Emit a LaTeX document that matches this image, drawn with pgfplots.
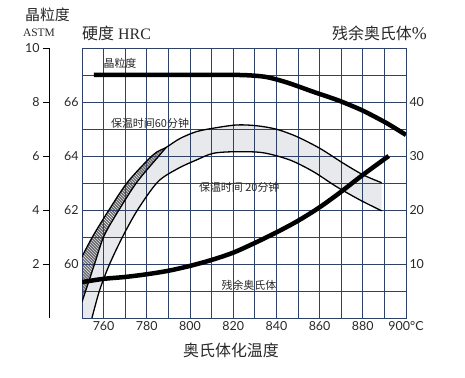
\documentclass[border=0pt]{standalone}
\usepackage{pgfplots}
\pgfplotsset{compat=1.18}
\usetikzlibrary{patterns}
\usepackage{fontspec}
\setmainfont{Lato}
\newfontfamily\cjk{Noto Sans CJK SC}
\newfontfamily\serif{Liberation Serif}
\definecolor{gridcol}{RGB}{45,65,105}
\definecolor{bandgray}{RGB}{232,233,237}
\definecolor{hatchgray}{RGB}{105,105,110}
\definecolor{txt}{RGB}{40,40,40}

\begin{document}
\begin{tikzpicture}
\path[use as bounding box] (-82bp,-60bp) rectangle (383bp,318bp);

% background axis: shaded band and hatched area
\begin{axis}[
  scale only axis, width=324bp, height=270bp,
  xmin=750, xmax=900, ymin=0, ymax=10,
  hide axis,
]
% band between 60 min (with left branch B) and 20 min curves
\addplot[fill=bandgray, draw=none] coordinates {
 (750,0) (750,0.6) (752.5,1.3) (755.9,2.02) (760.2,3.04) (763.7,3.55) (767.4,4.04) (771.3,4.56) (775.6,5.05) (780.5,5.57) (786,6.04) (789,6.32)
 (795.4,6.65) (802.9,6.9) (810.8,7.03) (816,7.11) (821.6,7.15) (826,7.15) (830.9,7.12) (835.5,7.07) (840.1,6.99)
 (845,6.87) (849.4,6.72) (855,6.51) (860.2,6.28) (865.5,6.01) (871,5.73) (875.5,5.51) (880.2,5.3) (884.5,5.14) (888.7,5.01)
 (888.7,3.97) (883.5,4.17) (878.7,4.37) (873.5,4.6) (867.9,4.86) (862.5,5.15) (857.1,5.42) (851.5,5.66) (846.3,5.85)
 (840,6.02) (833.9,6.12) (827.5,6.16) (821.6,6.16) (816,6.14) (810.8,6.1) (806.5,6.0) (802.9,5.85) (798.5,5.7) (794.5,5.54)
 (789.5,5.32) (785.2,5.05) (780.5,4.57) (776,4.04) (772.3,3.55) (769,3.04) (765.7,2.5) (762.8,2.0) (760.3,1.52) (758.2,1.04) (756.3,0.5) (754.6,0)};
% hatched area between A and B
\addplot[fill=hatchgray, draw=none, postaction={pattern=north west lines, pattern color=white}] coordinates {
 (750,2.27) (752.5,2.66) (755.1,3.04) (758.9,3.55) (762.8,4.04) (767,4.56) (771.3,5.05) (776.9,5.56) (782.9,6.04) (789,6.32)
 (786,6.04) (780.5,5.57) (775.6,5.05) (771.3,4.56) (767.4,4.04) (763.7,3.55) (760.2,3.04) (757.9,2.52) (755.9,2.02) (752.5,1.3) (750,0.6)};
\end{axis}

% main axis: x = temperature, y = grid units (hardness HRC - 58)
\begin{axis}[
  scale only axis, width=324bp, height=270bp,
  xmin=750, xmax=900, ymin=0, ymax=10,
  xtick={750,760,...,900},
  xticklabels={,760,,780,,800,,820,,840,,860,,880,,900°C},
  ytick={0,1,...,10},
  yticklabels={,,60,,62,,64,,66,,},
  grid=major,
  major grid style={gridcol, line width=0.9bp},
  axis line style={gridcol, line width=0.9bp},
  major tick length=0pt,
  tick label style={font=\fontsize{12.5}{14}\selectfont, text=txt},
]
% curve A (upper edge of hatched area) + 60 min curve
\addplot[black, line width=1.3bp, smooth, tension=0.5] coordinates {
 (750,2.27) (755.1,3.04) (762.8,4.04) (771.3,5.05) (782.9,6.04) (789,6.32)
 (795.4,6.65) (802.9,6.9) (810.8,7.03) (821.6,7.15) (830.9,7.12) (840.1,6.99)
 (849.4,6.72) (860.2,6.28) (871,5.73) (880.2,5.3) (888.7,5.01)};
% curve B (lower edge of hatched area)
\addplot[black, line width=1.3bp, smooth, tension=0.5] coordinates {
 (750,0.6) (755.9,2.02) (760.2,3.04) (767.4,4.04) (775.6,5.05) (786,6.04) (789,6.32)};
% 20 min curve
\addplot[black, line width=1.3bp, smooth, tension=0.5] coordinates {
 (754.6,0) (758.2,1.04) (762.8,2.0) (769,3.04) (776,4.04) (785.2,5.05) (794.5,5.54)
 (802.9,5.85) (810.8,6.1) (821.6,6.16) (833.9,6.12) (846.3,5.85) (857.1,5.42)
 (867.9,4.86) (878.7,4.37) (888.7,3.97)};
% grain size (thick)
\addplot[black, line width=4.5bp, smooth, tension=0.4] coordinates {
 (755.5,9) (790,9) (823,9) (835,8.93) (845,8.72) (857,8.38) (869,8.05)
 (880,7.68) (891,7.22) (900,6.78)};
% retained austenite (thick)
\addplot[black, line width=4.5bp, smooth, tension=0.5] coordinates {
 (750,1.33) (760,1.45) (770,1.52) (780,1.62) (790,1.75) (800,1.93) (810,2.15)
 (820,2.42) (830,2.78) (840,3.17) (850,3.6) (860,4.1) (870,4.68) (880,5.3) (892,6.0)};
\node[font=\cjk\fontsize{11}{11}\selectfont, text=txt] at (axis cs:767.6,9.44) {晶粒度};
\node[font=\cjk\fontsize{11}{11}\selectfont, text=txt] at (axis cs:781.5,7.22) {保温时间60分钟};
\node[font=\cjk\fontsize{11}{11}\selectfont, text=txt] at (axis cs:822.8,4.84) {保温时间 20分钟};
\node[font=\cjk\fontsize{11}{11}\selectfont, text=txt] at (axis cs:827.3,1.22) {残余奥氏体};
\end{axis}

% right axis: retained austenite %
\begin{axis}[
  scale only axis, width=324bp, height=270bp,
  xmin=750, xmax=900, ymin=0, ymax=50,
  hide x axis, axis y line*=right,
  y axis line style={draw=none},
  ytick={10,20,30,40},
  major tick length=0pt,
  /pgf/number format/assume math mode=true,
  tick label style={font=\fontsize{12.5}{14}\selectfont, text=txt},
]
\addplot[draw=none] coordinates {(750,0) (900,50)};
\end{axis}

% far-left axis: grain size ASTM
\begin{axis}[
  at={(-33bp,0bp)}, anchor=south west,
  scale only axis, width=10bp, height=270bp,
  xmin=0, xmax=1, ymin=0, ymax=10,
  hide x axis, axis y line*=left,
  y axis line style={black, line width=0.8bp, -},
  ytick={2,4,6,8,10},
  tick align=outside, major tick length=6bp,
  major tick style={black, line width=0.8bp},
  /pgf/number format/assume math mode=true,
  tick label style={font=\fontsize{12.5}{14}\selectfont, text=txt},
]
\addplot[draw=none] coordinates {(0,0) (1,10)};
\end{axis}

\node[font=\cjk\fontsize{15}{15}\selectfont, text=txt] at (-34.5bp,303bp) {晶粒度};
\node[font=\serif\fontsize{11.5}{12}\selectfont, text=txt] at (-43bp,285bp) {ASTM};
\node[anchor=west, inner sep=0pt, font=\fontsize{16}{16}\selectfont, text=txt] at (0bp,285bp) {{\cjk 硬度} {\serif HRC}};
\node[anchor=east, inner sep=0pt, font=\fontsize{16}{16}\selectfont, text=txt] at (345bp,285bp) {{\cjk 残余奥氏体}{\serif\fontsize{18}{18}\selectfont\%}};
\node[font=\cjk\fontsize{16}{16}\selectfont, text=txt] at (149bp,-32bp) {奥氏体化温度};
\end{tikzpicture}
\end{document}
